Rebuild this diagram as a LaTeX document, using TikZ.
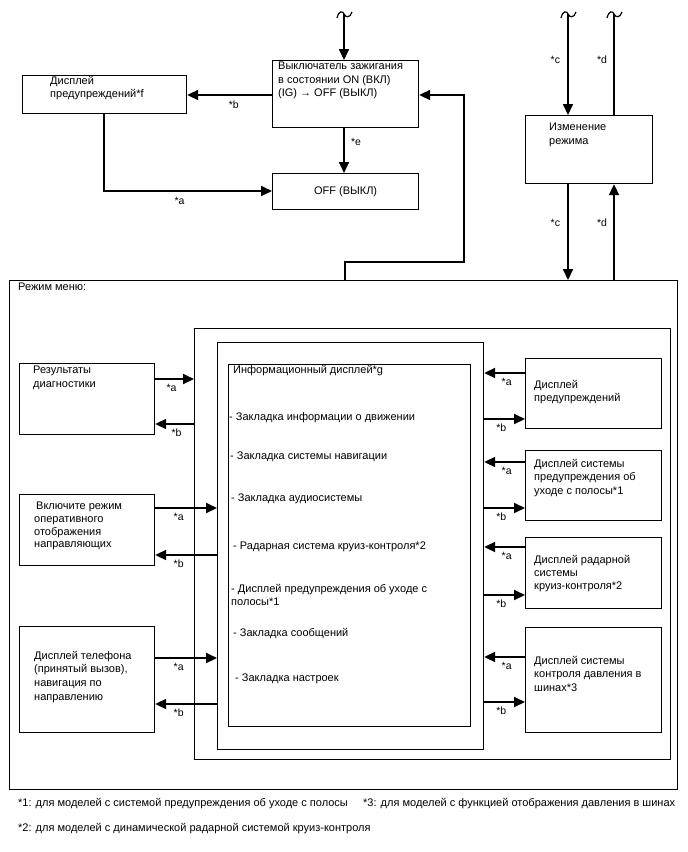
\documentclass[tikz,border=0pt]{standalone}
\usepackage{fontspec}
\setmainfont{Liberation Sans}
\usetikzlibrary{arrows.meta,calc}
\begin{document}
\begin{tikzpicture}[x=1pt,y=-1pt,
  box/.style={draw, line width=1.2pt, anchor=north west, inner sep=0pt, rectangle},
  txt/.style={anchor=north west, inner sep=0pt, align=left, font=\fontsize{11}{13.6}\selectfont},
  lbl/.style={inner sep=0pt, font=\fontsize{10.5}{11}\selectfont},
  arr/.style={line width=2pt, -{Triangle[length=11pt,width=10pt]}},
  ln/.style={line width=2pt},
  tild/.style={line width=1.2pt}]
\useasboundingbox (0,0) rectangle (688,852);

% ---- top section ----
\node[box, minimum width=146pt, minimum height=67pt] (ign) at (272,60) {};
\node[txt] (ignt) at (278,62) {Выключатель зажигания\\в состоянии ON (ВКЛ)\\(IG) → OFF (ВЫКЛ)};
\node[box, minimum width=164pt, minimum height=38pt] (warnf) at (22,75) {};
\node[txt] (warnft) at (50,76) {Дисплей\\предупреждений*f};
\node[box, minimum width=146pt, minimum height=36pt] (off) at (272,173) {};
\node[txt, anchor=center] (offt) at (off.center) {OFF (ВЫКЛ)};
\node[box, minimum width=127pt, minimum height=68pt] (mode) at (525,115) {};
\node[txt] (modet) at (549,123) {Изменение\\режима};

% tildes / free ends
\coordinate (t1) at (344,14);
\coordinate (t2) at (568,14);
\coordinate (t3) at (614,14);
\foreach \c in {t1,t2,t3}{
  \draw[tild] ($(\c)+(-7,4)$) .. controls ($(\c)+(-5,-4)$) and ($(\c)+(-1,-3)$) .. (\c)
     .. controls ($(\c)+(2,4)$) and ($(\c)+(6,4)$) .. ($(\c)+(8,-2)$);
}

\draw[arr] (t1) -- (ign.north -| t1);
\draw[arr] (ign.west |- 0,95) -- (warnf.east |- 0,95) node[lbl, pos=0.45, below=5pt] (lb1) {*b};
\draw[arr] (ign.south -| t1) -- (off.north -| t1) node[lbl, pos=0.3, right=6pt] (le1) {*e};
\coordinate (wa) at (104,191);
\draw[arr] (warnf.south -| wa) -- (wa) -- (off.west |- wa) node[lbl, pos=0.45, below=5pt] (la1) {*a};

\draw[arr] (t2) -- (mode.north -| t2) node[lbl, pos=0.45, left=7pt] (lc1) {*c};
\draw[ln] (mode.north -| t3) -- (t3) node[lbl, pos=0.55, left=6pt] (ld1) {*d};

% ---- menu ----
\node[box, minimum width=668pt, minimum height=509pt] (menu) at (9,280) {};
\node[txt] (menut) at (18,283) {Режим меню:};
\node[box, minimum width=476pt, minimum height=431pt] (m2) at (194,328) {};
\node[box, minimum width=266pt, minimum height=407pt] (m3) at (217,342) {};
\node[box, minimum width=242pt, minimum height=362pt] (info) at (228,364) {};

\draw[arr] (mode.south -| t2) -- (menu.north -| t2) node[lbl, pos=0.4, left=7pt] (lc2) {*c};
\draw[arr] (menu.north -| t3) -- (mode.south -| t3) node[lbl, pos=0.6, left=6pt] (ld2) {*d};

\coordinate (r1) at (345,262);
\coordinate (r2) at (464,262);
\draw[arr] (menu.north -| r1) -- (r1) -- (r2) -- (r2 |- 0,95) -- (ign.east |- 0,95);

% info text
\node[txt] (i0) at (233,365.5) {Информационный дисплей*g};
\node[txt] (i1) at (229,412) {- Закладка информации о движении};
\node[txt] (i2) at (230,452) {- Закладка системы навигации};
\node[txt] (i3) at (231,494) {- Закладка аудиосистемы};
\node[txt] (i4) at (233,542) {- Радарная система круиз-контроля*2};
\node[txt, font=\fontsize{11}{13}\selectfont] (i5) at (231,584) {- Дисплей предупреждения об уходе с\\полосы*1};
\node[txt] (i6) at (233,628) {- Закладка сообщений};
\node[txt] (i7) at (235,674) {- Закладка настроек};

% left boxes
\node[box, minimum width=135pt, minimum height=71pt] (diag) at (19,363) {};
\node[txt, font=\fontsize{11}{14}\selectfont] (diagt) at (33,366) {Результаты\\диагностики};
\node[box, minimum width=135pt, minimum height=71pt] (guide) at (19,494) {};
\node[txt, font=\fontsize{11}{12.7}\selectfont] (guidet) at (34,502) {\hspace{2pt}Включите режим\\оперативного\\отображения\\направляющих};
\node[box, minimum width=135pt, minimum height=106pt] (phone) at (19,626) {};
\node[txt] (phonet) at (34,651) {Дисплей телефона\\(принятый вызов),\\навигация по\\направлению};

\draw[arr] (diag.east |- 0,379) -- (m2.west |- 0,379) node[lbl, pos=0.42, below=4pt] (da) {*a};
\draw[arr] (m2.west |- 0,424) -- (diag.east |- 0,424) node[lbl, pos=0.45, below=4pt] (db) {*b};
\draw[arr] (guide.east |- 0,508) -- (m3.west |- 0,508) node[lbl, pos=0.38, below=4pt] (ga) {*a};
\draw[arr] (m3.west |- 0,555) -- (guide.east |- 0,555) node[lbl, pos=0.62, below=4pt] (gb) {*b};
\draw[arr] (phone.east |- 0,658) -- (m3.west |- 0,658) node[lbl, pos=0.38, below=4pt] (pa) {*a};
\draw[arr] (m3.west |- 0,704) -- (phone.east |- 0,704) node[lbl, pos=0.62, below=4pt] (pb) {*b};

% right boxes
\node[box, minimum width=136pt, minimum height=70pt] (rwarn) at (525,358) {};
\node[txt] (rwarnt) at (534,380) {Дисплей\\предупреждений};
\node[box, minimum width=136pt, minimum height=70pt] (lane) at (525,450) {};
\node[txt] (lanet) at (534,459) {Дисплей системы\\предупреждения об\\уходе с полосы*1};
\node[box, minimum width=136pt, minimum height=71pt] (radar) at (525,537) {};
\node[txt, font=\fontsize{11}{13}\selectfont] (radart) at (534,555) {Дисплей радарной\\системы\\круиз-контроля*2};
\node[box, minimum width=136pt, minimum height=105pt] (tpms) at (525,627) {};
\node[txt] (tpmst) at (534,656) {Дисплей системы\\контроля давления в\\шинах*3};

\draw[arr] (rwarn.west |- 0,373) -- (m3.east |- 0,373) node[lbl, pos=0.45, below=4pt] (wa2) {*a};
\draw[arr] (m3.east |- 0,419) -- (rwarn.west |- 0,419) node[lbl, pos=0.42, below=4pt] (wb2) {*b};
\draw[arr] (lane.west |- 0,462) -- (m3.east |- 0,462) node[lbl, pos=0.45, below=4pt] (la2) {*a};
\draw[arr] (m3.east |- 0,508) -- (lane.west |- 0,508) node[lbl, pos=0.42, below=4pt] (lb2) {*b};
\draw[arr] (radar.west |- 0,547) -- (m3.east |- 0,547) node[lbl, pos=0.45, below=4pt] (ra2) {*a};
\draw[arr] (m3.east |- 0,595) -- (radar.west |- 0,595) node[lbl, pos=0.42, below=4pt] (rb2) {*b};
\draw[arr] (tpms.west |- 0,657) -- (m3.east |- 0,657) node[lbl, pos=0.45, below=4pt] (ta2) {*a};
\draw[arr] (m3.east |- 0,702) -- (tpms.west |- 0,702) node[lbl, pos=0.42, below=4pt] (tb2) {*b};

% footnotes
\node[txt] (f1) at (18,798) {*1: для моделей с системой предупреждения об уходе с полосы};
\node[txt] (f3) at (363,798) {*3: для моделей с функцией отображения давления в шинах};
\node[txt] (f2) at (18,823) {*2: для моделей с динамической радарной системой круиз-контроля};
\end{tikzpicture}
\end{document}
